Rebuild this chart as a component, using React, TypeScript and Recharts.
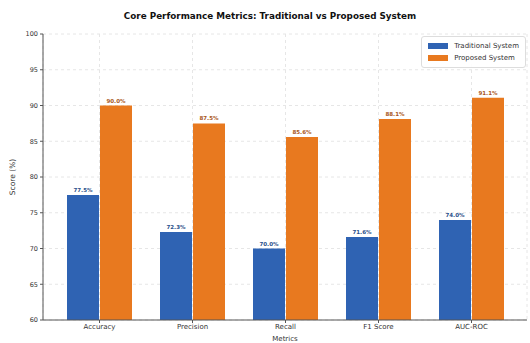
import React from 'react';
import {
  BarChart,
  Bar,
  XAxis,
  YAxis,
  CartesianGrid,
  LabelList,
  Label,
} from 'recharts';

const metrics = ['Accuracy', 'Precision', 'Recall', 'F1 Score', 'AUC-ROC'];
const traditional = [77.5, 72.3, 70.0, 71.6, 74.0];
const proposed = [90.0, 87.5, 85.6, 88.1, 91.1];
const yTicks = [60, 65, 70, 75, 80, 85, 90, 95, 100];

const data = metrics.map((name, i) => ({
  name,
  traditional: traditional[i],
  proposed: proposed[i],
}));

const FONT = '"DejaVu Sans", sans-serif';
const BLUE = '#2f63b3';
const ORANGE = '#e8791f';

const legendItems = [
  { label: 'Traditional System', color: BLUE },
  { label: 'Proposed System', color: ORANGE },
];

const App = () => {
  return (
    <div
      style={{
        position: 'absolute',
        left: 0,
        top: 0,
        width: 530,
        height: 343,
        background: '#fff',
        overflow: 'hidden',
      }}
    >
      <BarChart
        width={530}
        height={343}
        data={data}
        margin={{ top: 34, right: 3, bottom: 0, left: 0 }}
        barSize={32}
        barGap={1}
      >
        <CartesianGrid stroke="#e6e6e6" strokeDasharray="3 3" />
        <XAxis
          dataKey="name"
          padding={{ left: 10, right: 9 }}
          height={23}
          tickLine={{ stroke: '#555' }}
          tickSize={3}
          axisLine={{ stroke: '#555' }}
          tick={{ fontFamily: FONT, fontSize: 7, fill: '#333', dy: -1 }}
        >
          <Label
            value="Metrics"
            position="insideBottom"
            offset={2}
            style={{ fontFamily: FONT, fontSize: 7, fill: '#333' }}
          />
        </XAxis>
        <YAxis
          domain={[60, 100]}
          ticks={yTicks}
          allowDataOverflow
          width={43}
          tickLine={{ stroke: '#555' }}
          tickSize={3}
          axisLine={{ stroke: '#555' }}
          tick={{ fontFamily: FONT, fontSize: 6.5, fill: '#333' }}
        >
          <Label
            value="Score (%)"
            angle={-90}
            position="insideLeft"
            offset={12}
            style={{ fontFamily: FONT, fontSize: 7.5, fill: '#333', textAnchor: 'middle' }}
          />
        </YAxis>
        <Bar dataKey="traditional" name="Traditional System" fill={BLUE} isAnimationActive={false}>
          <LabelList
            dataKey="traditional"
            position="top"
            offset={3}
            formatter={(v: number) => `${v.toFixed(1)}%`}
            style={{ fontFamily: FONT, fontSize: 5.5, fill: '#2a4f8a', fontWeight: 'bold' }}
          />
        </Bar>
        <Bar dataKey="proposed" name="Proposed System" fill={ORANGE} isAnimationActive={false}>
          <LabelList
            dataKey="proposed"
            position="top"
            offset={3}
            formatter={(v: number) => `${v.toFixed(1)}%`}
            style={{ fontFamily: FONT, fontSize: 5.5, fill: '#a8561a', fontWeight: 'bold' }}
          />
        </Bar>
      </BarChart>

      {/* title */}
      <div
        style={{
          position: 'absolute',
          top: 11,
          left: 28,
          width: 484,
          textAlign: 'center',
          fontFamily: FONT,
          fontSize: 8.8,
          fontWeight: 'bold',
          color: '#111',
        }}
      >
        Core Performance Metrics: Traditional vs Proposed System
      </div>

      {/* legend */}
      <div
        style={{
          position: 'absolute',
          top: 36,
          right: 4,
          background: 'rgba(255,255,255,0.9)',
          border: '1px solid #ddd',
          borderRadius: 3,
          padding: '3px 6px',
          fontFamily: FONT,
          fontSize: 7,
          color: '#333',
          lineHeight: '12px',
        }}
      >
        {legendItems.map((item) => (
          <div key={item.label} style={{ display: 'flex', alignItems: 'center' }}>
            <span
              style={{
                display: 'inline-block',
                width: 20,
                height: 6,
                background: item.color,
                marginRight: 6,
              }}
            />
            {item.label}
          </div>
        ))}
      </div>
    </div>
  );
};

export default App;
